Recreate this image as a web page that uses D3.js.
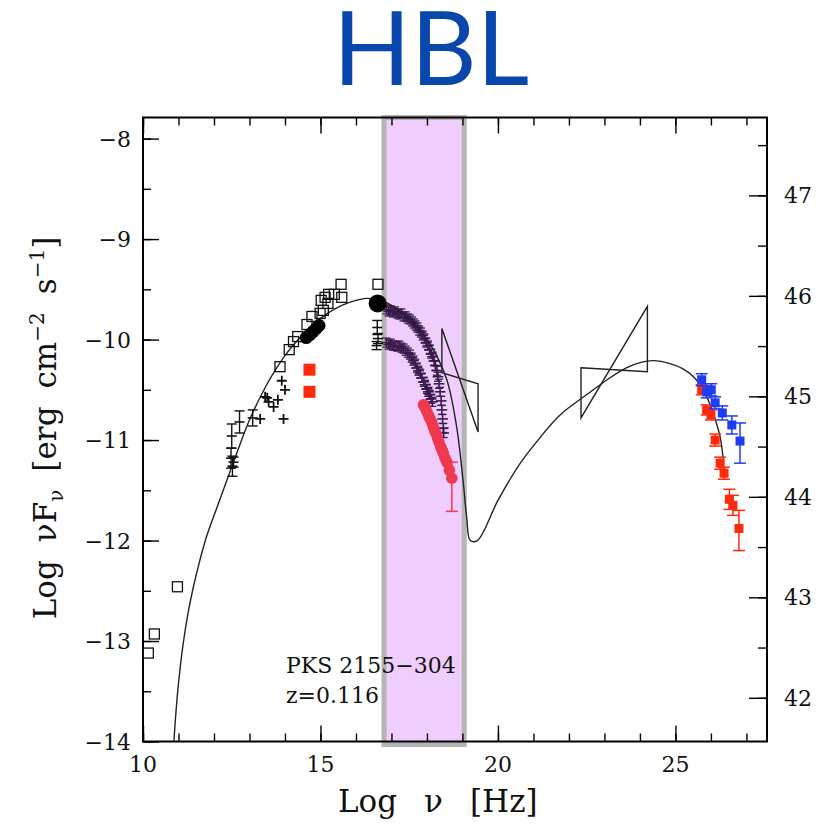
<!DOCTYPE html>
<html><head><meta charset="utf-8">
<script src="https://cdn.jsdelivr.net/npm/d3@7"></script>
<style>body{margin:0;background:#fff}</style>
</head><body>
<svg id="c" width="818" height="824"></svg>
<script>
// ---------- data ----------
const xTicksMajor = [10, 15, 20, 25];
const xTicksMinor = d3.range(10, 28, 1);
const yTicksMajor = [-14, -13, -12, -11, -10, -9, -8];
const yTicksMinor = d3.range(-14, -7.7, 0.5);
const y2TicksMajor = [42, 43, 44, 45, 46, 47];
const y2TicksMinor = d3.range(42, 47.8, 0.5);
const lumOffset = 55.565;            // log(4 pi dL^2), right axis
const xrayBand = [16.79, 19.05];

const modelCurve = [
  [10.87,-14.0],[10.93,-13.7],[11.0,-13.42],[11.13,-13.03],[11.27,-12.72],[11.42,-12.46],
  [11.6,-12.2],[11.8,-11.95],[12.2,-11.56],[12.6,-11.17],[13.0,-10.8],[13.5,-10.44],
  [14.0,-10.16],[14.4,-9.99],[14.8,-9.85],[15.2,-9.74],[15.6,-9.66],[16.0,-9.61],
  [16.3,-9.59],[16.7,-9.61],[17.0,-9.66],[17.5,-9.8],[18.0,-10.0],[18.3,-10.18],
  [18.56,-10.4],[18.7,-10.6],[18.85,-10.9],[18.94,-11.15],[19.03,-11.45],[19.12,-11.77],
  [19.22,-12.0],[19.42,-12.0],[20.0,-11.6],[20.63,-11.23],[21.2,-10.97],[21.75,-10.75],
  [22.69,-10.5],[23.16,-10.38],[23.63,-10.28],[24.0,-10.23],[24.38,-10.21],[24.85,-10.24],
  [25.2,-10.29],[25.51,-10.37],[25.75,-10.48],[25.97,-10.64],[26.1,-10.77],[26.26,-10.97],
  [26.35,-11.2]
];
// bowties: [x, y] corners in drawing order
const bowtieXray = [[18.42,-9.89],[19.44,-10.92],[19.44,-10.44],[18.42,-10.33]];
const bowtieGamma = [[22.34,-10.28],[24.21,-10.32],[24.21,-9.67],[22.34,-10.78]];

const archivalSquares = [
  [15.58,-9.45],[16.62,-9.45],[15.39,-9.55],[15.60,-9.58],[15.23,-9.55],[15.13,-9.58],
  [15.02,-9.61],[15.21,-9.64],[15.08,-9.71],[14.99,-9.74],[14.76,-9.77],[14.62,-9.85],
  [14.36,-9.97],[14.24,-10.02],[14.12,-10.10],[13.86,-10.27],
  [10.97,-12.46],[10.32,-12.93],[10.15,-13.12]
];
const opticalFilled = [[14.60,-9.98],[14.70,-9.95],[14.79,-9.92],[14.88,-9.89],[14.96,-9.86]];
const uvFilled = [[16.61,-9.64]];
const uvErrPoints = [[16.60,-9.88,0.07],[16.62,-9.99,0.05],[16.58,-10.06,0.04]];
const irErrPoints = [
  [12.50,-10.96,0.12],[12.48,-11.18,0.10],[12.52,-11.26,0.10],[12.55,-11.22,0.05],
  [12.72,-10.82,0.11],[13.09,-10.78,0.08]
];
const nirCrosses = [
  [13.30,-10.79],[13.44,-10.57],[13.54,-10.62],[13.68,-10.67],[13.96,-10.79],
  [13.91,-10.41],[14.00,-10.50],[13.80,-10.60],[13.50,-10.58]
];
const optRedSquares = [[14.69,-10.30],[14.69,-10.52]];

const xrayHigh = [
  [16.86,-9.70],[16.92,-9.72],[16.98,-9.71],[17.04,-9.73],[17.10,-9.72],[17.16,-9.74],
  [17.22,-9.75],[17.28,-9.74],[17.34,-9.77],[17.40,-9.77],[17.46,-9.79],[17.52,-9.80],
  [17.58,-9.82],[17.63,-9.84],[17.68,-9.86],[17.73,-9.88],[17.78,-9.91],[17.83,-9.93],
  [17.88,-9.96],[17.93,-9.99],[17.98,-10.03],[18.03,-10.06],[18.08,-10.10],[18.12,-10.14],
  [18.16,-10.17],[18.20,-10.21],[18.24,-10.26],[18.28,-10.31],[18.31,-10.37],[18.34,-10.44],
  [18.37,-10.52],[18.40,-10.61],[18.42,-10.70],[18.44,-10.79],[18.46,-10.88],[18.47,-10.93]
];
const xrayLow = [
  [16.86,-10.03],[16.92,-10.05],[16.98,-10.04],[17.04,-10.06],[17.10,-10.06],[17.16,-10.07],
  [17.22,-10.06],[17.28,-10.08],[17.34,-10.09],[17.40,-10.11],[17.46,-10.13],[17.52,-10.15],
  [17.57,-10.18],[17.62,-10.21],[17.67,-10.24],[17.72,-10.28],[17.76,-10.31],[17.81,-10.34],
  [17.86,-10.38],[17.91,-10.42],[17.95,-10.45],[18.00,-10.49],[18.04,-10.52],[18.08,-10.55],
  [18.12,-10.59],[18.15,-10.62]
];
const xrayPink = [
  [17.90,-10.65],[17.95,-10.68],[18.00,-10.72],[18.05,-10.76],[18.09,-10.79],[18.14,-10.83],
  [18.18,-10.87],[18.22,-10.91],[18.26,-10.94],[18.30,-10.98],[18.34,-11.02],[18.39,-11.07],
  [18.43,-11.10],[18.46,-11.13],[18.51,-11.18],[18.56,-11.22],[18.63,-11.30],[18.70,-11.38]
];
const pinkLastErr = [18.70,-11.38,0.33,0.16];

// TeV: [x, y, errDown, errUp]
const tevHigh = [
  [25.74,-10.40,0.06,0.06],[25.88,-10.52,0.06,0.06],[26.01,-10.50,0.06,0.06],
  [26.12,-10.63,0.06,0.06],[26.32,-10.73,0.07,0.07],[26.59,-10.85,0.09,0.09],
  [26.82,-11.01,0.22,0.18]
];
const tevLow = [
  [25.74,-10.50,0.05,0.05],[25.88,-10.70,0.05,0.05],[26.00,-10.75,0.05,0.05],
  [26.12,-11.00,0.06,0.06],[26.26,-11.23,0.06,0.06],[26.37,-11.33,0.06,0.06],
  [26.52,-11.59,0.10,0.10],[26.62,-11.65,0.10,0.10],[26.79,-11.88,0.22,0.18]
];

// ---------- drawing ----------
const svg = d3.select("#c");
const L = 143, R = 767, T = 117.5, B = 741.5;
const x = d3.scaleLinear().domain([10, 27.58]).range([L, R]);
const y = d3.scaleLinear().domain([-14, -7.79]).range([B, T]);
const y2 = d3.scaleLinear().domain([-14 + lumOffset, -7.79 + lumOffset]).range([B, T]);
const serif = "DejaVu Serif";

// title
svg.append("text").attr("x", 431).attr("y", 85).attr("text-anchor", "middle")
  .attr("font-family", "Lato").attr("font-size", 102).attr("fill", "#0a47ad").text("HBL");

// x-ray band
svg.append("rect").attr("x", x(xrayBand[0])).attr("y", T)
  .attr("width", x(xrayBand[1]) - x(xrayBand[0])).attr("height", B - T + 3)
  .attr("fill", "#efcdfd").attr("stroke", "#b5b5b5").attr("stroke-width", 5);

// axes (ticks inward)
function axis(gen, scale, vals, size, tx) {
  const g = svg.append("g").attr("transform", tx)
    .call(gen(scale).tickValues(vals).tickSize(size).tickFormat(""));
  g.select(".domain").remove();
  g.selectAll("line").attr("stroke", "#000").attr("stroke-width", 1.4);
  return g;
}
axis(d3.axisTop, x, xTicksMinor, 8, `translate(0,${B})`);
axis(d3.axisTop, x, xTicksMajor, 16, `translate(0,${B})`);
axis(d3.axisBottom, x, xTicksMinor, 8, `translate(0,${T})`);
axis(d3.axisBottom, x, xTicksMajor, 16, `translate(0,${T})`);
axis(d3.axisRight, y, yTicksMinor, 8, `translate(${L},0)`);
axis(d3.axisRight, y, yTicksMajor, 16, `translate(${L},0)`);
axis(d3.axisLeft, y2, y2TicksMinor, 9, `translate(${R},0)`);
axis(d3.axisLeft, y2, y2TicksMajor, 18, `translate(${R},0)`);

// tick labels
const lab = svg.append("g").attr("font-family", serif).attr("font-size", 22).attr("fill", "#111");
xTicksMajor.forEach(v => lab.append("text").attr("x", x(v)).attr("y", 772)
  .attr("text-anchor", "middle").text(d3.format("d")(v)));
yTicksMajor.forEach(v => lab.append("text").attr("x", 131).attr("y", y(v) + 8)
  .attr("text-anchor", "end").text(String(v).replace("-", "\u2212")));
y2TicksMajor.forEach(v => lab.append("text").attr("x", 784).attr("y", y2(v) + 8)
  .attr("text-anchor", "start").text(v));

// frame
svg.append("rect").attr("x", L).attr("y", T).attr("width", R - L).attr("height", B - T)
  .attr("fill", "none").attr("stroke", "#000").attr("stroke-width", 2);

// axis titles
const xt = svg.append("text").attr("y", 812).attr("font-family", serif)
  .attr("font-size", 31).attr("fill", "#111");
xt.append("tspan").attr("x", 338).text("Log");
xt.append("tspan").attr("x", 424).text("\u03bd");
xt.append("tspan").attr("x", 470).text("[Hz]");

const yt = svg.append("text").attr("transform", "translate(56,428) rotate(-90)")
  .attr("text-anchor", "middle").attr("font-family", serif).attr("font-size", 31)
  .attr("fill", "#111");
yt.append("tspan").text("Log");
yt.append("tspan").attr("dx", 18).text("\u03bdF");
yt.append("tspan").attr("font-size", 20).attr("dy", 7).text("\u03bd");
yt.append("tspan").attr("dy", -7).attr("dx", 18).text("[erg");
yt.append("tspan").attr("dx", 18).text("cm");
yt.append("tspan").attr("font-size", 20).attr("dy", -12).text("\u22122");
yt.append("tspan").attr("dy", 12).attr("dx", 18).text("s");
yt.append("tspan").attr("font-size", 20).attr("dy", -12).text("\u22121");
yt.append("tspan").attr("dy", 12).text("]");

// annotation
svg.append("text").attr("x", 286).attr("y", 673).attr("font-family", serif)
  .attr("font-size", 22).attr("fill", "#111").text("PKS 2155\u2212304");
svg.append("text").attr("x", 286).attr("y", 703).attr("font-family", serif)
  .attr("font-size", 22).attr("fill", "#111").text("z=0.116");

const plot = svg.append("g");

function errBars(g, data, color, fy, cap, sw) {
  data.forEach(d => {
    const cx = x(d[0]);
    const [y0, y1] = fy(d);
    g.append("line").attr("x1", cx).attr("x2", cx).attr("y1", y(y0)).attr("y2", y(y1))
      .attr("stroke", color).attr("stroke-width", sw);
    [y0, y1].forEach(v => g.append("line").attr("x1", cx - cap).attr("x2", cx + cap)
      .attr("y1", y(v)).attr("y2", y(v)).attr("stroke", color).attr("stroke-width", sw));
  });
}

// purple x-ray tracks (crosses with error bars)
const purple = "#3a1a4e";
[xrayHigh, xrayLow].forEach(arr => arr.forEach(d => {
  const cx = x(d[0]), cy = y(d[1]);
  plot.append("line").attr("x1", x(d[0] - 0.15)).attr("x2", x(d[0] + 0.15)).attr("y1", cy).attr("y2", cy)
    .attr("stroke", purple).attr("stroke-width", 1.6);
  plot.append("line").attr("x1", cx).attr("x2", cx).attr("y1", y(d[1] + 0.045)).attr("y2", y(d[1] - 0.045))
    .attr("stroke", purple).attr("stroke-width", 1.6);
  [d[1] + 0.045, d[1] - 0.045].forEach(v => plot.append("line").attr("x1", cx - 4).attr("x2", cx + 4)
    .attr("y1", y(v)).attr("y2", y(v)).attr("stroke", purple).attr("stroke-width", 1.3));
}));

// pink x-ray circles
const pink = "#f0384f";
plot.append("line").attr("x1", x(pinkLastErr[0])).attr("x2", x(pinkLastErr[0]))
  .attr("y1", y(pinkLastErr[1] - pinkLastErr[2])).attr("y2", y(pinkLastErr[1] + pinkLastErr[3]))
  .attr("stroke", pink).attr("stroke-width", 1.5);
[pinkLastErr[1] - pinkLastErr[2], pinkLastErr[1] + pinkLastErr[3]].forEach(v =>
  plot.append("line").attr("x1", x(pinkLastErr[0]) - 6).attr("x2", x(pinkLastErr[0]) + 6)
    .attr("y1", y(v)).attr("y2", y(v)).attr("stroke", pink).attr("stroke-width", 1.5));
plot.selectAll(".pk").data(xrayPink).join("circle").attr("cx", d => x(d[0])).attr("cy", d => y(d[1]))
  .attr("r", 5.8).attr("fill", pink);

// model curve
const line = d3.line().x(d => x(d[0])).y(d => y(d[1])).curve(d3.curveCatmullRom.alpha(0.5));
plot.append("path").attr("d", line(modelCurve)).attr("fill", "none").attr("stroke", "#222").attr("stroke-width", 1.4);

// bowties
[bowtieXray, bowtieGamma].forEach(b => plot.append("path")
  .attr("d", d3.line().x(d => x(d[0])).y(d => y(d[1])).curve(d3.curveLinearClosed)(b))
  .attr("fill", "none").attr("stroke", "#222").attr("stroke-width", 1.4));

// black data
errBars(plot, irErrPoints, "#111", d => [d[1] - d[2], d[1] + d[2]], 5, 1.4);
errBars(plot, uvErrPoints, "#111", d => [d[1] - d[2], d[1] + d[2]], 5, 1.4);
irErrPoints.concat(uvErrPoints).forEach(d => plot.append("line")
  .attr("x1", x(d[0]) - 5).attr("x2", x(d[0]) + 5).attr("y1", y(d[1])).attr("y2", y(d[1]))
  .attr("stroke", "#111").attr("stroke-width", 1.6));
nirCrosses.forEach(d => {
  const cx = x(d[0]), cy = y(d[1]);
  plot.append("path").attr("d", `M${cx - 5},${cy}H${cx + 5}M${cx},${cy - 5}V${cy + 5}`)
    .attr("stroke", "#111").attr("stroke-width", 1.8);
});
plot.selectAll(".sq").data(archivalSquares).join("rect")
  .attr("x", d => x(d[0]) - 5).attr("y", d => y(d[1]) - 5).attr("width", 10).attr("height", 10)
  .attr("fill", "none").attr("stroke", "#111").attr("stroke-width", 1.3);
plot.selectAll(".of").data(opticalFilled).join("circle")
  .attr("cx", d => x(d[0])).attr("cy", d => y(d[1])).attr("r", 6.5).attr("fill", "#000");
plot.selectAll(".uf").data(uvFilled).join("circle")
  .attr("cx", d => x(d[0])).attr("cy", d => y(d[1])).attr("r", 9).attr("fill", "#000");
plot.selectAll(".rs").data(optRedSquares).join("rect")
  .attr("x", d => x(d[0]) - 6).attr("y", d => y(d[1]) - 6).attr("width", 12).attr("height", 12)
  .attr("fill", "#ff2a0c");

// TeV data
[[tevLow, "#ff2a0c"], [tevHigh, "#1f3cf5"]].forEach(([arr, col]) => {
  errBars(plot, arr, col, d => [d[1] - d[2], d[1] + d[3]], 6, 1.5);
  arr.forEach(d => plot.append("rect").attr("x", x(d[0]) - 4.5).attr("y", y(d[1]) - 4.5)
    .attr("width", 9).attr("height", 9).attr("fill", col));
});
</script>
</body></html>
